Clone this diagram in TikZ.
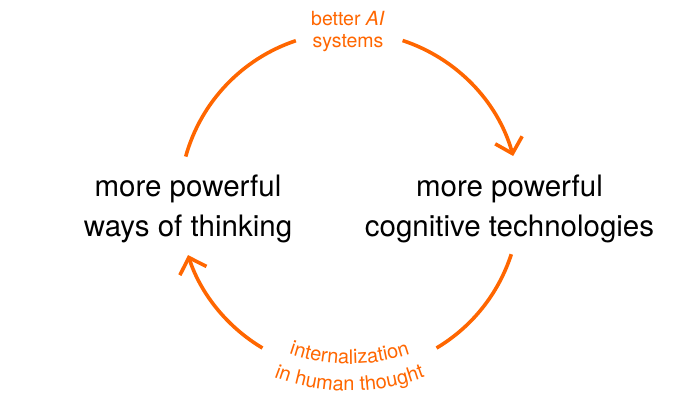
\documentclass[tikz,border=0pt]{standalone}
\usepackage{fontspec}
\setmainfont{TeX Gyre Heros}
\usetikzlibrary{arrows.meta,decorations.text}
\definecolor{cyc}{HTML}{FF6600}
\tikzset{
  cycarc/.style={draw=cyc, line width=3.6pt},
  cyctip/.style={-{Straight Barb[length=14pt,width=28pt]}},
  bigtext/.style={align=center, font=\fontsize{29.5}{40}\selectfont, text=black, inner sep=0pt},
  labeltext/.style={align=center, font=\fontsize{19.5}{21.5}\selectfont, text=cyc, inner sep=0pt},
  curvedlabel/.style={decorate, decoration={text along path, text align=center, text color=cyc, text={|\fontsize{20}{21}\selectfont|#1}}},
}
\begin{document}
\begin{tikzpicture}[x=1pt,y=1pt]
\useasboundingbox (0,0) rectangle (700,400);
\coordinate (C) at (349.5,198);
\coordinate (D) at (349.5,221);
\node[bigtext] (L) at (188,191) {more powerful\\ways of thinking};
\node[bigtext] (R) at (509.5,191) {more powerful\\cognitive technologies};
\node[labeltext] (T) at (348,368.6) {better \textit{AI}\\systems};
\path (C) ++(164.5:170) coordinate (a1);
\path (C) ++(71.8:170) coordinate (a2);
\path (C) ++(-17.9:170) coordinate (a3);
\path (C) ++(-120.8:170) coordinate (a4);
\draw[cycarc] (a1) arc[start angle=164.5, end angle=108.4, radius=170];
\draw[cycarc, cyctip] (a2) arc[start angle=71.8, end angle=15.7, radius=170];
\draw[cycarc] (a3) arc[start angle=-17.9, end angle=-59.2, radius=170];
\draw[cycarc, cyctip] (a4) arc[start angle=-120.8, end angle=-161.8, radius=170];
\path (D) ++(-120:185) coordinate (b1);
\path (D) ++(-120:212) coordinate (b2);
\path[curvedlabel={internalization}] (b1) arc[start angle=-120, end angle=-60, radius=185];
\path[curvedlabel={in human thought}] (b2) arc[start angle=-120, end angle=-60, radius=212];
\end{tikzpicture}
\end{document}
